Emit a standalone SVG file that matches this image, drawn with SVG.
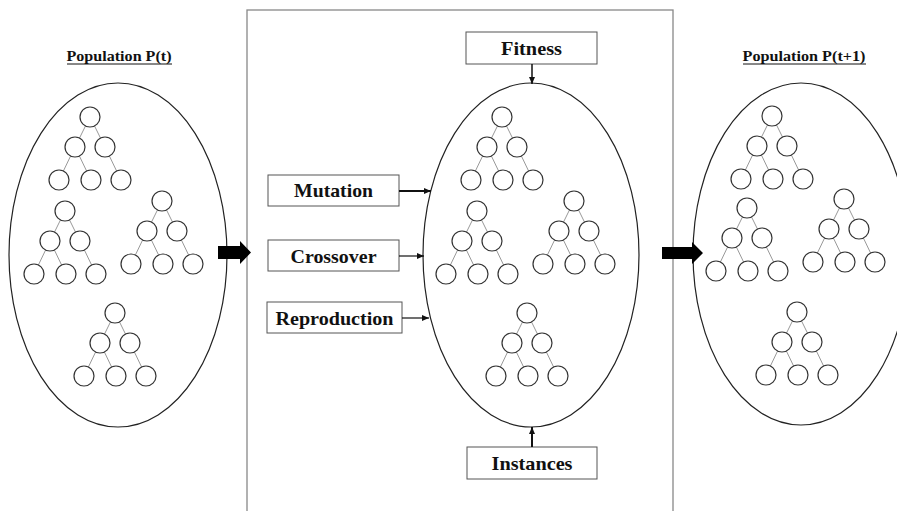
<svg xmlns="http://www.w3.org/2000/svg" xmlns:xlink="http://www.w3.org/1999/xlink" width="897" height="511" viewBox="0 0 897 511">
<style>
.pop{fill:none;stroke:#222;stroke-width:1.2}
.nd{fill:#fff;stroke:#333;stroke-width:1.2}
.br{stroke:#999;stroke-width:1}
.box{fill:#fff;stroke:#555;stroke-width:1}
.lbl{font-family:"Liberation Serif","Times New Roman",serif;font-weight:bold;font-size:19px;fill:#111;text-anchor:middle}
.ttl{font-family:"Liberation Serif","Times New Roman",serif;font-weight:bold;font-size:15px;fill:#111;text-anchor:middle}
.ln{stroke:#111;fill:none}
</style>
<defs>
<marker id="ah" markerWidth="8" markerHeight="8" refX="7" refY="4" orient="auto" markerUnits="userSpaceOnUse">
<path d="M0,1 L7,4 L0,7 Z" fill="#111"/>
</marker>
<g id="tree">
<line class="br" x1="-4.5" y1="8.9" x2="-10.5" y2="21.1"/>
<line class="br" x1="4.5" y1="8.9" x2="10.5" y2="21.1"/>
<line class="br" x1="-19.4" y1="39" x2="-26.6" y2="54"/>
<line class="br" x1="-10.6" y1="39" x2="-3.4" y2="54"/>
<line class="br" x1="19.4" y1="39" x2="26.6" y2="54"/>
<circle class="nd" cx="0" cy="0" r="10"/>
<circle class="nd" cx="-15" cy="30" r="10"/>
<circle class="nd" cx="15" cy="30" r="10"/>
<circle class="nd" cx="-31" cy="63" r="10"/>
<circle class="nd" cx="1" cy="63" r="10"/>
<circle class="nd" cx="31" cy="63" r="10"/>
</g>
</defs>
<rect width="897" height="511" fill="#fff"/>
<rect id="frame" x="247" y="10" width="426" height="520" fill="none" stroke="#888" stroke-width="1.3"/>

<g id="population-t">
<text class="ttl" x="119" y="61" textLength="105" lengthAdjust="spacingAndGlyphs">Population P(t)</text>
<line x1="67" y1="64" x2="172" y2="64" stroke="#111" stroke-width="1"/>
<ellipse class="pop" cx="118" cy="255" rx="109" ry="172"/>
<use xlink:href="#tree" x="90" y="117"/>
<use xlink:href="#tree" x="65" y="211"/>
<use xlink:href="#tree" x="162" y="201"/>
<use xlink:href="#tree" x="115" y="313"/>
</g>

<g id="population-mid">
<ellipse class="pop" cx="531" cy="255" rx="108" ry="172"/>
<use xlink:href="#tree" x="502" y="117"/>
<use xlink:href="#tree" x="477" y="211"/>
<use xlink:href="#tree" x="574" y="201"/>
<use xlink:href="#tree" x="527" y="313"/>
</g>

<g id="population-t1">
<text class="ttl" x="804" y="61" textLength="123" lengthAdjust="spacingAndGlyphs">Population P(t+1)</text>
<line x1="743" y1="64" x2="866" y2="64" stroke="#111" stroke-width="1"/>
<ellipse class="pop" cx="801" cy="254" rx="108" ry="171"/>
<use xlink:href="#tree" x="772" y="116"/>
<use xlink:href="#tree" x="747" y="208"/>
<use xlink:href="#tree" x="844" y="199"/>
<use xlink:href="#tree" x="797" y="312"/>
</g>

<g id="fitness">
<rect class="box" x="466" y="32" width="131" height="32"/>
<text class="lbl" x="531.5" y="55" textLength="61" lengthAdjust="spacingAndGlyphs">Fitness</text>
</g>
<g id="mutation">
<rect class="box" x="268" y="175" width="131" height="31"/>
<text class="lbl" x="333.5" y="197" textLength="79" lengthAdjust="spacingAndGlyphs">Mutation</text>
</g>
<g id="crossover">
<rect class="box" x="268" y="240" width="131" height="31"/>
<text class="lbl" x="333.5" y="263" textLength="86" lengthAdjust="spacingAndGlyphs">Crossover</text>
</g>
<g id="reproduction">
<rect class="box" x="267" y="302" width="135" height="31"/>
<text class="lbl" x="334.5" y="325" textLength="118" lengthAdjust="spacingAndGlyphs">Reproduction</text>
</g>
<g id="instances">
<rect class="box" x="467" y="447" width="130" height="32"/>
<text class="lbl" x="532" y="470" textLength="81" lengthAdjust="spacingAndGlyphs">Instances</text>
</g>

<g id="connectors">
<polygon points="218,246 240,246 240,241 251,252.5 240,264 240,259 218,259" fill="#000"/>
<polygon points="662,247 692,247 692,242 703,253 692,264 692,259 662,259" fill="#000"/>
<line class="ln" x1="532" y1="64" x2="532" y2="84" stroke-width="1.5" marker-end="url(#ah)"/>
<line class="ln" x1="399" y1="191" x2="431" y2="191" stroke-width="2" marker-end="url(#ah)"/>
<line class="ln" x1="399" y1="256" x2="424" y2="256" stroke-width="1.2" marker-end="url(#ah)"/>
<line class="ln" x1="402" y1="318" x2="429" y2="318" stroke-width="1.2" marker-end="url(#ah)"/>
<line class="ln" x1="532" y1="447" x2="532" y2="427" stroke-width="2" marker-end="url(#ah)"/>
</g>
</svg>
